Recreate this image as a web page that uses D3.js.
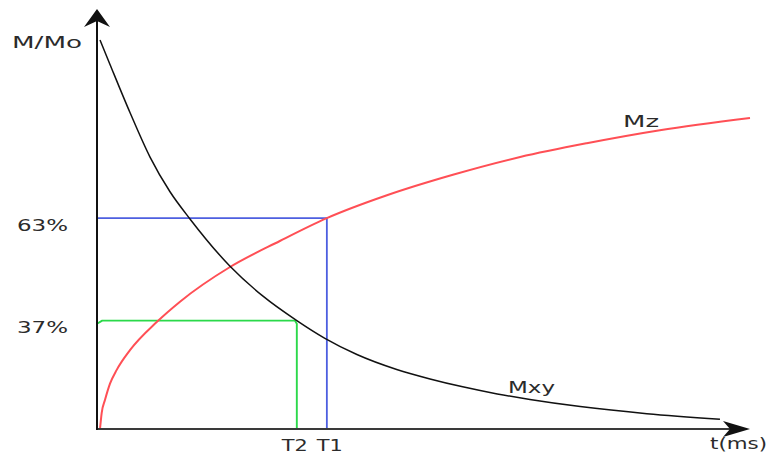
<!DOCTYPE html>
<html>
<head>
<meta charset="utf-8">
<script src="https://cdn.jsdelivr.net/npm/d3@7"></script>
<style>
  html, body { margin: 0; padding: 0; background: #fff; }
  svg { display: block; }
  text { font-family: "DejaVu Sans", Verdana, sans-serif; fill: #2b2b2b; }
</style>
</head>
<body>
<svg id="chart" width="771" height="455"></svg>
<script>
// Relaxation of magnetisation after an RF pulse: Mz recovers (T1), Mxy decays (T2).
// Time in ms (arbitrary units), magnetisation as M/Mo.
const timeMz  = [0.46, 0.72, 1.23, 1.99, 3.02, 5.05, 9.19, 12.71, 20.37, 28.0, 35.2, 44.4, 54.5, 64.8, 75.0, 86.2, 100];
const valueMz = [0.095, 0.136, 0.169, 0.210, 0.245, 0.295, 0.367, 0.418, 0.506, 0.572, 0.630, 0.688, 0.740, 0.785, 0.820, 0.853, 0.884];

const timeMxy  = [0.46, 1.99, 5.05, 8.12, 11.18, 14.24, 20.37, 25.42, 30.6, 34.9, 39.8, 45.9, 51.0, 56.0, 61.3, 66.3, 74.0, 84.2, 95.4];
const valueMxy = [1.082, 1.020, 0.898, 0.785, 0.697, 0.628, 0.508, 0.432, 0.370, 0.325, 0.284, 0.246, 0.222, 0.202, 0.184, 0.170, 0.152, 0.134, 0.120];

// Relaxation times and the levels that define them
const relaxTimes  = { T1: 35.2, T2: 30.6 };
const levelLabels = ["63%", "37%"];
const levelValues = [0.63, 0.37];

const svg = d3.select("#chart");

const x = d3.scaleLinear().domain([0, 100]).range([97, 750]);
const y = d3.scaleLinear().domain([0.095, 1.082]).range([429, 40]);
const base = y.domain()[0];

// guide lines for T1 (blue) and T2 (green)
const guide = d3.line().x(d => x(d[0])).y(d => y(d[1]));
svg.append("path")
  .attr("d", guide([[0, levelValues[0]], [relaxTimes.T1, levelValues[0]], [relaxTimes.T1, base]]))
  .attr("fill", "none").attr("stroke", "#4d5fe0").attr("stroke-width", 1.8);
svg.append("path")
  .attr("d", guide([[0, levelValues[1] - 0.008], [0.8, levelValues[1]], [relaxTimes.T2 - 0.3, levelValues[1]], [relaxTimes.T2, levelValues[1] - 0.008], [relaxTimes.T2, base]]))
  .attr("fill", "none").attr("stroke", "#2bd94a").attr("stroke-width", 1.9)
  .attr("stroke-linejoin", "round");

// relaxation curves
const curve = d3.line().x(d => x(d[0])).y(d => y(d[1])).curve(d3.curveMonotoneX);
svg.append("path")
  .attr("d", curve(d3.zip(timeMz, valueMz)))
  .attr("fill", "none").attr("stroke", "#ff4f55").attr("stroke-width", 2);
svg.append("path")
  .attr("d", curve(d3.zip(timeMxy, valueMxy)))
  .attr("fill", "none").attr("stroke", "#111").attr("stroke-width", 1.5);

// axes with arrow heads
const x0 = x(0), yb = y(base);
svg.append("line").attr("x1", x0).attr("y1", yb).attr("x2", 740).attr("y2", yb)
  .attr("stroke", "#3a3a3a").attr("stroke-width", 2);
svg.append("path").attr("d", `M750,${yb} L723,${yb - 8} L730,${yb} L723,${yb + 8} Z`)
  .attr("fill", "#111");
svg.append("line").attr("x1", x0).attr("y1", yb + 1).attr("x2", x0).attr("y2", 20)
  .attr("stroke", "#111").attr("stroke-width", 2);
svg.append("path").attr("d", `M${x0},9 L${x0 - 13},27 L${x0},21 L${x0 + 13},27 Z`)
  .attr("fill", "#111");

// text, stretched to fit its slot
function label(str, lx, ly, w) {
  svg.append("text").attr("x", lx).attr("y", ly)
    .attr("font-size", 16)
    .attr("textLength", w).attr("lengthAdjust", "spacingAndGlyphs")
    .text(str);
}
label("M/Mo", 12, 48, 70);
levelLabels.forEach((s, i) => label(s, 17, y(levelValues[i]) + 12.5, 51));
label("T2", x(relaxTimes.T2) - 15, 451, 26);
label("T1", x(relaxTimes.T1) - 10, 451, 26);
label("t(ms)", 710, 449, 57);
label("Mz", 623, 127, 36);
label("Mxy", 508, 393, 47);
</script>
</body>
</html>
